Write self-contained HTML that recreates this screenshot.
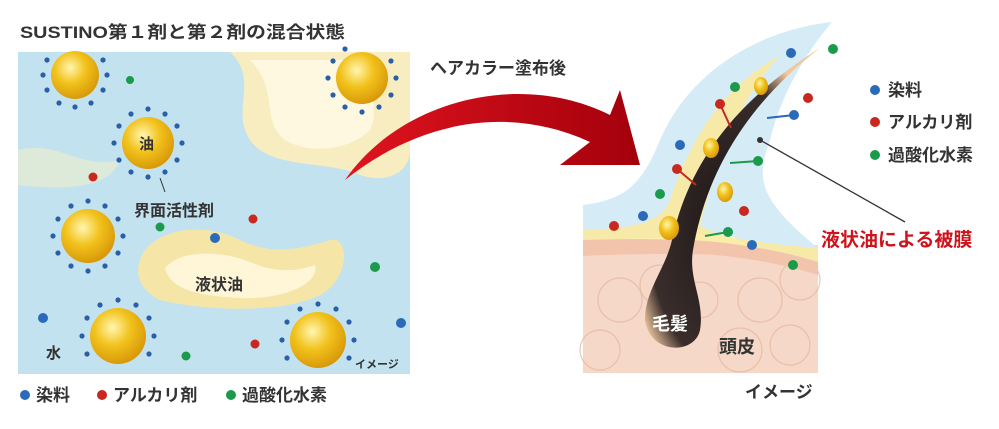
<!DOCTYPE html>
<html><head><meta charset="utf-8"><style>
body{margin:0;background:#fff;width:999px;height:424px;overflow:hidden;font-family:"Liberation Sans","Noto Sans CJK JP",sans-serif}
svg text{font-family:"Liberation Sans","Noto Sans CJK JP",sans-serif;font-weight:bold}
</style></head><body>
<svg width="999" height="424" viewBox="0 0 999 424">
<defs>
<radialGradient id="oil" cx="40%" cy="35%" r="65%"><stop offset="0" stop-color="#fff6b0"/><stop offset="0.5" stop-color="#f2c21c"/><stop offset="1" stop-color="#d99a0a"/></radialGradient>
<linearGradient id="arr" x1="0" y1="0" x2="1" y2="0"><stop offset="0" stop-color="#e0141e"/><stop offset="1" stop-color="#a3000c"/></linearGradient>
<radialGradient id="root" cx="50%" cy="60%" r="60%"><stop offset="0" stop-color="#1a1414"/><stop offset="0.8" stop-color="#3a2e2c"/><stop offset="1" stop-color="#f0c8a0"/></radialGradient>
</defs>
<text x="20" y="38" font-size="17" fill="#333" textLength="325" lengthAdjust="spacingAndGlyphs">SUSTINO第１剤と第２剤の混合状態</text>
<rect x="18" y="52" width="392" height="322" fill="#c3e2ef"/>
<path d="M230 52 C260 80 230 110 250 140 C270 170 330 160 360 175 C390 185 410 170 410 150 L410 52 Z" fill="#f7edc0"/>
<path d="M250 60 C280 90 260 120 285 140 C310 155 350 150 370 130 C380 110 370 80 350 60 Z" fill="#fff8e0"/>
<path d="M140 260 C150 230 200 220 240 240 C270 255 300 250 330 240 C350 235 350 280 320 295 C280 315 200 310 160 300 C140 290 135 275 140 260 Z" fill="#f5e6a8"/>
<path d="M165 268 C180 250 220 250 250 262 C280 275 300 270 315 265 C320 285 280 300 240 298 C200 296 170 290 165 268 Z" fill="#fff6d8"/>
<path d="M18 150 C60 140 80 170 120 160 C110 190 60 190 18 185 Z" fill="#e8ecd0" opacity="0.7"/>
<circle cx="75" cy="75" r="24" fill="url(#oil)"/>
<circle cx="362" cy="78" r="26" fill="url(#oil)"/>
<circle cx="148" cy="143" r="26" fill="url(#oil)"/>
<circle cx="88" cy="236" r="27" fill="url(#oil)"/>
<circle cx="118" cy="336" r="28" fill="url(#oil)"/>
<circle cx="318" cy="340" r="28" fill="url(#oil)"/>
<g fill="#2a5fa8">
<g transform="translate(75,75)"><circle r="2.6" cx="32" cy="0"/><circle r="2.6" cx="28" cy="15"/><circle r="2.6" cx="16" cy="28"/><circle r="2.6" cx="0" cy="32"/><circle r="2.6" cx="-16" cy="28"/><circle r="2.6" cx="-28" cy="15"/><circle r="2.6" cx="-32" cy="0"/><circle r="2.6" cx="28" cy="-15"/><circle r="2.6" cx="-28" cy="-15"/></g>
<g transform="translate(362,78)"><circle r="2.6" cx="34" cy="0"/><circle r="2.6" cx="29" cy="17"/><circle r="2.6" cx="17" cy="29"/><circle r="2.6" cx="0" cy="34"/><circle r="2.6" cx="-17" cy="29"/><circle r="2.6" cx="-29" cy="17"/><circle r="2.6" cx="-34" cy="0"/><circle r="2.6" cx="-29" cy="-17"/><circle r="2.6" cx="-17" cy="-29"/><circle r="2.6" cx="29" cy="-17"/></g>
<g transform="translate(148,143)"><circle r="2.6" cx="34" cy="0"/><circle r="2.6" cx="29" cy="17"/><circle r="2.6" cx="17" cy="29"/><circle r="2.6" cx="0" cy="34"/><circle r="2.6" cx="-17" cy="29"/><circle r="2.6" cx="-29" cy="17"/><circle r="2.6" cx="-34" cy="0"/><circle r="2.6" cx="-29" cy="-17"/><circle r="2.6" cx="-17" cy="-29"/><circle r="2.6" cx="0" cy="-34"/><circle r="2.6" cx="17" cy="-29"/><circle r="2.6" cx="29" cy="-17"/></g>
<g transform="translate(88,236)"><circle r="2.6" cx="35" cy="0"/><circle r="2.6" cx="30" cy="17"/><circle r="2.6" cx="17" cy="30"/><circle r="2.6" cx="0" cy="35"/><circle r="2.6" cx="-17" cy="30"/><circle r="2.6" cx="-30" cy="17"/><circle r="2.6" cx="-35" cy="0"/><circle r="2.6" cx="-30" cy="-17"/><circle r="2.6" cx="-17" cy="-30"/><circle r="2.6" cx="0" cy="-35"/><circle r="2.6" cx="17" cy="-30"/><circle r="2.6" cx="30" cy="-17"/></g>
<g transform="translate(118,336)"><circle r="2.6" cx="36" cy="0"/><circle r="2.6" cx="31" cy="-18"/><circle r="2.6" cx="18" cy="-31"/><circle r="2.6" cx="0" cy="-36"/><circle r="2.6" cx="-18" cy="-31"/><circle r="2.6" cx="-31" cy="-18"/><circle r="2.6" cx="-36" cy="0"/><circle r="2.6" cx="31" cy="18"/><circle r="2.6" cx="-31" cy="18"/></g>
<g transform="translate(318,340)"><circle r="2.6" cx="36" cy="0"/><circle r="2.6" cx="31" cy="-18"/><circle r="2.6" cx="18" cy="-31"/><circle r="2.6" cx="0" cy="-36"/><circle r="2.6" cx="-18" cy="-31"/><circle r="2.6" cx="-31" cy="-18"/><circle r="2.6" cx="-36" cy="0"/><circle r="2.6" cx="31" cy="18"/><circle r="2.6" cx="-31" cy="18"/></g>
</g>
<g>
<circle cx="130" cy="80" r="4" fill="#1a9a4a"/><circle cx="93" cy="177" r="4.5" fill="#c8281e"/><circle cx="160" cy="227" r="4.5" fill="#1a9a4a"/><circle cx="253" cy="219" r="4.5" fill="#c8281e"/><circle cx="215" cy="238" r="5" fill="#2a6ab8"/><circle cx="375" cy="267" r="5" fill="#1a9a4a"/><circle cx="43" cy="318" r="5" fill="#2a6ab8"/><circle cx="186" cy="356" r="4.5" fill="#1a9a4a"/><circle cx="255" cy="344" r="4.5" fill="#c8281e"/><circle cx="401" cy="323" r="5" fill="#2a6ab8"/>
</g>
<text x="139" y="149" font-size="15" fill="#333">油</text>
<line x1="160" y1="178" x2="165" y2="192" stroke="#333" stroke-width="1"/>
<text x="134" y="216" font-size="16" fill="#333">界面活性剤</text>
<text x="195" y="290" font-size="16" fill="#333">液状油</text>
<text x="46" y="358" font-size="15" fill="#333">水</text>
<text x="355" y="368" font-size="11" fill="#333">イメージ</text>
<circle cx="25" cy="395" r="5" fill="#2a6ab8"/><text x="36" y="401" font-size="17" fill="#333">染料</text>
<circle cx="102" cy="395" r="5" fill="#c8281e"/><text x="113" y="401" font-size="17" fill="#333">アルカリ剤</text>
<circle cx="231" cy="395" r="5" fill="#1a9a4a"/><text x="242" y="401" font-size="17" fill="#333">過酸化水素</text>
<text x="430" y="74" font-size="17" fill="#333">ヘアカラー塗布後</text>
<path d="M345 180 C400 100 520 70 610 115 L620 90 L640 165 L560 165 L590 142 C510 105 420 120 345 180 Z" fill="url(#arr)"/>
<rect x="583" y="245" width="235" height="128" fill="#f6d8c8"/>
<g fill="none" stroke="#e8b8a2" stroke-width="1.2" opacity="0.8">
<circle cx="620" cy="300" r="22"/><circle cx="660" cy="285" r="20"/><circle cx="760" cy="300" r="22"/><circle cx="800" cy="280" r="20"/><circle cx="600" cy="350" r="20"/><circle cx="740" cy="350" r="22"/><circle cx="790" cy="345" r="20"/><circle cx="700" cy="300" r="18"/>
</g>
<path d="M583 205 C620 200 640 190 660 140 C690 70 760 30 832 22 C800 60 780 100 770 140 C755 180 760 200 818 248 L818 262 C760 258 740 240 730 235 C700 232 660 240 583 240 Z" fill="#d5ecf7"/>
<path d="M583 230 C630 228 660 225 670 200 C690 140 720 90 780 55 C740 100 720 150 700 225 C720 240 780 245 818 248 L818 262 C760 258 720 250 705 250 C680 250 620 255 583 250 Z" fill="#fbeaa0" opacity="0.9"/>
<path d="M583 240 C640 238 670 240 690 240 C730 242 780 250 818 262 L818 275 C770 260 720 254 690 254 C660 254 620 254 583 256 Z" fill="#f2c4ac"/>
<path d="M645 320 C645 290 665 270 672 240 C685 180 720 110 820 48 C740 110 705 180 693 250 C688 280 705 300 700 330 C695 355 650 355 645 320 Z" fill="url(#root)"/>
<g>
<circle cx="791" cy="53" r="5" fill="#2a6ab8"/><circle cx="833" cy="49" r="5" fill="#1a9a4a"/><circle cx="735" cy="87" r="5" fill="#1a9a4a"/><circle cx="808" cy="98" r="5" fill="#c8281e"/><circle cx="680" cy="145" r="5" fill="#2a6ab8"/><circle cx="660" cy="194" r="5" fill="#1a9a4a"/><circle cx="643" cy="216" r="5" fill="#2a6ab8"/><circle cx="614" cy="226" r="5" fill="#c8281e"/><circle cx="744" cy="211" r="5" fill="#c8281e"/><circle cx="752" cy="245" r="5" fill="#2a6ab8"/><circle cx="793" cy="265" r="5" fill="#1a9a4a"/>
<circle cx="720" cy="104" r="5" fill="#c8281e"/><circle cx="677" cy="169" r="5" fill="#c8281e"/><circle cx="794" cy="115" r="5" fill="#2a6ab8"/><circle cx="758" cy="161" r="5" fill="#1a9a4a"/><circle cx="728" cy="232" r="5" fill="#1a9a4a"/>
</g>
<g stroke-width="2">
<line x1="720" y1="104" x2="731" y2="128" stroke="#c8281e"/><line x1="677" y1="169" x2="696" y2="185" stroke="#c8281e"/>
<line x1="794" y1="115" x2="767" y2="118" stroke="#2a6ab8"/><line x1="758" y1="161" x2="730" y2="163" stroke="#1a9a4a"/><line x1="728" y1="232" x2="705" y2="236" stroke="#1a9a4a"/>
</g>
<ellipse cx="711" cy="148" rx="8" ry="10" fill="url(#oil)"/><ellipse cx="761" cy="86" rx="7" ry="9" fill="url(#oil)"/><ellipse cx="725" cy="192" rx="8" ry="10" fill="url(#oil)"/><ellipse cx="669" cy="228" rx="10" ry="12" fill="url(#oil)"/>
<circle cx="760" cy="140" r="3" fill="#333"/><line x1="760" y1="140" x2="905" y2="222" stroke="#333" stroke-width="1.3"/>
<text x="652" y="330" font-size="18" fill="#fff">毛髪</text>
<text x="719" y="353" font-size="18" fill="#333">頭皮</text>
<text x="745" y="398" font-size="17" fill="#333">イメージ</text>
<text x="821" y="246" font-size="19" fill="#d0121b">液状油による被膜</text>
<circle cx="875" cy="90" r="5" fill="#2a6ab8"/><text x="888" y="96" font-size="17" fill="#333">染料</text>
<circle cx="875" cy="122" r="5" fill="#c8281e"/><text x="888" y="128" font-size="17" fill="#333">アルカリ剤</text>
<circle cx="875" cy="155" r="5" fill="#1a9a4a"/><text x="888" y="161" font-size="17" fill="#333">過酸化水素</text>
</svg>
</body></html>
